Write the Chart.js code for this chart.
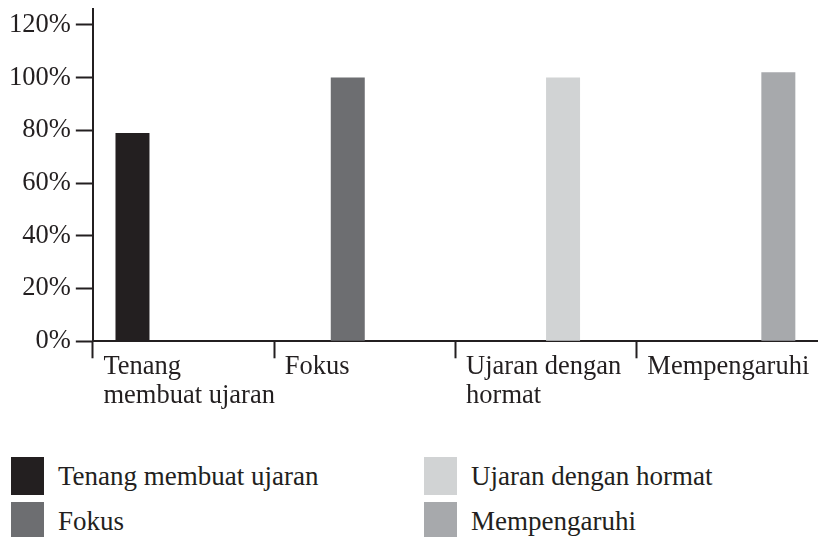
<!DOCTYPE html>
<html><head><meta charset="utf-8">
<script src="https://cdn.jsdelivr.net/npm/chart.js@4.4.0/dist/chart.umd.min.js"></script>
<style>
html,body{margin:0;padding:0;background:#fff;width:818px;height:537px;overflow:hidden;}
#wrap{position:absolute;left:0;top:0;width:818px;height:440px;}
#legend{position:absolute;left:11px;top:457px;display:grid;grid-template-columns:413px 330px;grid-template-rows:38px 38px;row-gap:7px;grid-auto-flow:column;font-family:"Liberation Serif","Times New Roman",serif;font-size:27px;color:#231f20;}
.item{display:flex;align-items:center;white-space:nowrap;}
.sw{width:33px;height:38px;margin-right:14px;flex:none;}
</style></head><body>
<div id="wrap"><canvas id="c"></canvas></div>
<div id="legend"></div>
<script>
const categories = [['Tenang', 'membuat ujaran'], ['Fokus'], ['Ujaran dengan', 'hormat'], ['Mempengaruhi']];
const seriesNames = ['Tenang membuat ujaran', 'Fokus', 'Ujaran dengan hormat', 'Mempengaruhi'];
const values = [79, 100, 100, 102];
const yTickValues = [0, 20, 40, 60, 80, 100, 120];
const colors = ['#231f20', '#6d6e71', '#d1d3d4', '#a7a9ac'];

const FONT = '"Liberation Serif", "Times New Roman", serif';
const INK = '#231f20';

const datasets = seriesNames.map((name, i) => ({
  label: name,
  data: values.map((v, j) => (j === i ? v : null)),
  backgroundColor: colors[i],
  borderWidth: 0
}));

// HTML legend built from the series arrays
const legend = document.getElementById('legend');
seriesNames.forEach((name, i) => {
  const item = document.createElement('div');
  item.className = 'item';
  const sw = document.createElement('span');
  sw.className = 'sw';
  sw.style.background = colors[i];
  const tx = document.createElement('span');
  tx.textContent = name;
  item.appendChild(sw);
  item.appendChild(tx);
  legend.appendChild(item);
});

new Chart(document.getElementById('c'), {
  type: 'bar',
  data: { labels: categories, datasets },
  options: {
    responsive: true,
    maintainAspectRatio: false,
    animation: false,
    datasets: { bar: { categoryPercentage: 0.75, barPercentage: 1.0 } },
    layout: { padding: { left: 4, top: 9, right: 0, bottom: 25 } },
    plugins: { legend: { display: false }, tooltip: { enabled: false } },
    scales: {
      x: {
        grid: {
          drawOnChartArea: false,
          offset: true,
          tickLength: 17,
          tickWidth: 2,
          tickColor: (c) => (c.type === 'tick' ? INK : 'rgba(0,0,0,0)')
        },
        border: { display: true, color: INK, width: 2 },
        ticks: {
          align: 'start',
          labelOffset: -80,
          padding: -5,
          color: INK,
          maxRotation: 0,
          autoSkip: false,
          font: { family: FONT, size: 26.5, lineHeight: 1.07 }
        },
        afterFit: (s) => { s.paddingLeft = 0; s.paddingRight = 0; s.height += 10; }
      },
      y: {
        min: 0,
        max: 126,
        stacked: false,
        afterBuildTicks: (s) => { s.ticks = yTickValues.map((v) => ({ value: v })); },
        grid: { drawOnChartArea: false, tickLength: 17, tickWidth: 2, tickColor: INK },
        border: { display: true, color: INK, width: 2 },
        ticks: {
          padding: 5,
          color: INK,
          font: { family: FONT, size: 26.5 },
          callback: (v) => v + '%'
        },
        afterFit: (s) => { s.paddingTop = 0; }
      }
    }
  }
});
</script>
</body></html>
